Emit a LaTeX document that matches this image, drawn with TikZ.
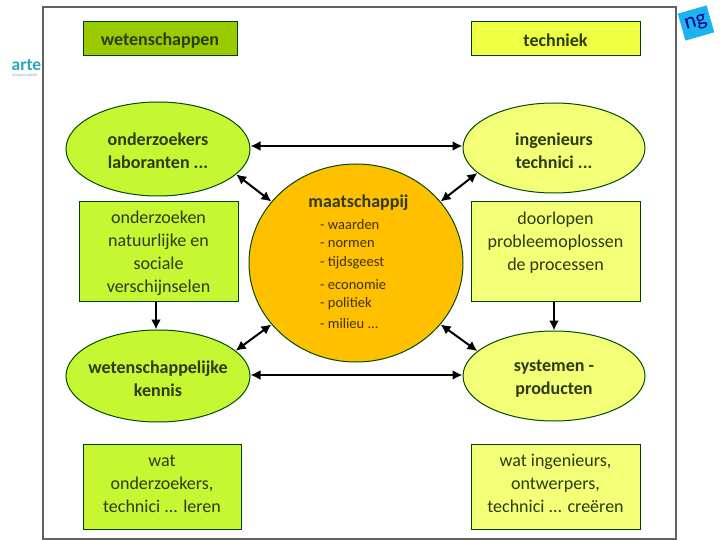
\documentclass[tikz,border=0pt]{standalone}
\usepackage{fontspec}
\setmainfont{Carlito}
\usetikzlibrary{shapes.geometric,arrows.meta}
\definecolor{darkgreen}{HTML}{99CC00}
\definecolor{limeg}{HTML}{C6F733}
\definecolor{paley}{HTML}{F4FF78}
\definecolor{brighty}{HTML}{EEFF44}
\definecolor{orangeg}{HTML}{FFC000}
\definecolor{txt}{HTML}{2E3A10}
\definecolor{bluetag}{HTML}{1CB4F0}
\definecolor{tealb}{HTML}{2BA6BE}
\tikzset{
  lbl/.style={font=\fontsize{18}{23}\selectfont,text=txt,align=center},
  blbl/.style={font=\fontsize{18}{22.5}\selectfont\bfseries,text=txt,align=center},
  boxn/.style={draw=black!75!green,line width=1pt,inner sep=0,anchor=center},
  ell/.style={ellipse,draw=black!70!green,line width=1pt,inner sep=0},
  conn/.style={line width=2pt,{Latex[length=10pt,width=10pt]}-{Latex[length=10pt,width=10pt]}},
  conn1/.style={line width=2pt,-{Latex[length=10pt,width=10pt]}},
  li/.style={font=\fontsize{14.5}{16}\selectfont,text=black!75!orangeg,anchor=west,inner sep=0}
}
\begin{document}
\begin{tikzpicture}[x=1pt,y=-1pt]
\useasboundingbox (0,0) rectangle (720,540);
\fill[white] (0,0) rectangle (720,540);
% logo
\node[font=\fontsize{17.5}{17}\selectfont\bfseries,text=tealb,anchor=west,inner sep=0] (logo) at (11.5,65) {arte};
\node[font=\fontsize{3.5}{4}\selectfont,text=black!45,anchor=west,inner sep=0] (logosub) at (12,75.5) {LID VAN 2CANSSS};
% tag
\node[fill=bluetag,rotate=16,minimum width=30pt,minimum height=28pt,inner sep=0,font=\fontsize{22}{22}\selectfont,text=blue!55!black] (tag) at (696,23) {ng};
% frame
\fill[white] (44,8) rectangle (675,538);
\node[draw=black!62,line width=1.8pt,minimum width=633pt,minimum height=532pt,inner sep=0] (frame) at (359.5,273) {};
% headers
\node[boxn,fill=darkgreen,minimum width=154pt,minimum height=34pt,label={[blbl,yshift=-1.5pt]center:wetenschappen}] (wet) at (160,39) {};
\node[boxn,fill=brighty,minimum width=169pt,minimum height=34pt,label={[blbl,yshift=-1.5pt]center:techniek}] (tech) at (555.5,39) {};
% ellipses
\node[ell,fill=limeg,minimum width=184pt,minimum height=94pt,label={[blbl,yshift=-2pt]center:{onderzoekers\\laboranten ...}}] (ond) at (158,149) {};
\node[ell,fill=paley,minimum width=182pt,minimum height=90pt,label={[blbl,yshift=-3pt]center:{ingenieurs\\technici ...}}] (ing) at (554,148) {};
\node[ell,fill=limeg,minimum width=184pt,minimum height=92pt,label={[blbl,yshift=-2.5pt]center:{wetenschappelijke\\kennis}}] (ken) at (158,376) {};
\node[ell,fill=paley,minimum width=182pt,minimum height=90pt,label={[blbl,yshift=-2.5pt]center:{systemen -\\producten}}] (sys) at (554,376) {};
% centre
\node[ell,fill=orangeg,minimum width=214pt,minimum height=198pt] (maat) at (356,263) {};
\node[blbl,inner sep=0] (mtitle) at (358.5,203) {maatschappij};
\node[li] (l1) at (320,224.5) {- waarden};
\node[li] (l2) at (320,244) {- normen};
\node[li] (l3) at (320,263) {- tijdsgeest};
\node[li] (l4) at (320,284.5) {- economie};
\node[li] (l5) at (320,304) {- politiek};
\node[li] (l6) at (320,323.5) {- milieu ...};
% boxes
\node[boxn,fill=limeg,minimum width=159pt,minimum height=99pt,label={[lbl,yshift=-2pt]center:{onderzoeken\\natuurlijke en\\sociale\\verschijnselen}}] (b1) at (158.5,251.5) {};
\node[boxn,fill=paley,minimum width=169pt,minimum height=99pt,label={[lbl,yshift=9pt]center:{doorlopen\\probleemoplossen\\de processen}}] (b2) at (555.5,251.5) {};
\node[boxn,fill=limeg,minimum width=158pt,minimum height=85pt,label={[lbl,yshift=3pt]center:{wat\\onderzoekers,\\technici ... leren}}] (b3) at (162,486.5) {};
\node[boxn,fill=paley,minimum width=169pt,minimum height=85pt,label={[lbl,yshift=3pt]center:{wat ingenieurs,\\ontwerpers,\\technici ... creëren}}] (b4) at (555.5,486.5) {};
% connectors
\draw[conn] (ond.east |- 0,146) -- (ing.west |- 0,146);
\draw[conn] (ken.east |- 0,375) -- (sys.west |- 0,375);
\draw[conn] (ond.-18) -- (maat.144);
\draw[conn] (ing.198) -- (maat.36);
\draw[conn] (ken.18) -- (maat.216);
\draw[conn] (sys.162) -- (maat.-36);
\draw[conn1] (b1.south -| 156,0) -- (ken.north -| 156,0);
\draw[conn1] (b2.south -| 554,0) -- (sys.north -| 554,0);
\end{tikzpicture}
\end{document}
